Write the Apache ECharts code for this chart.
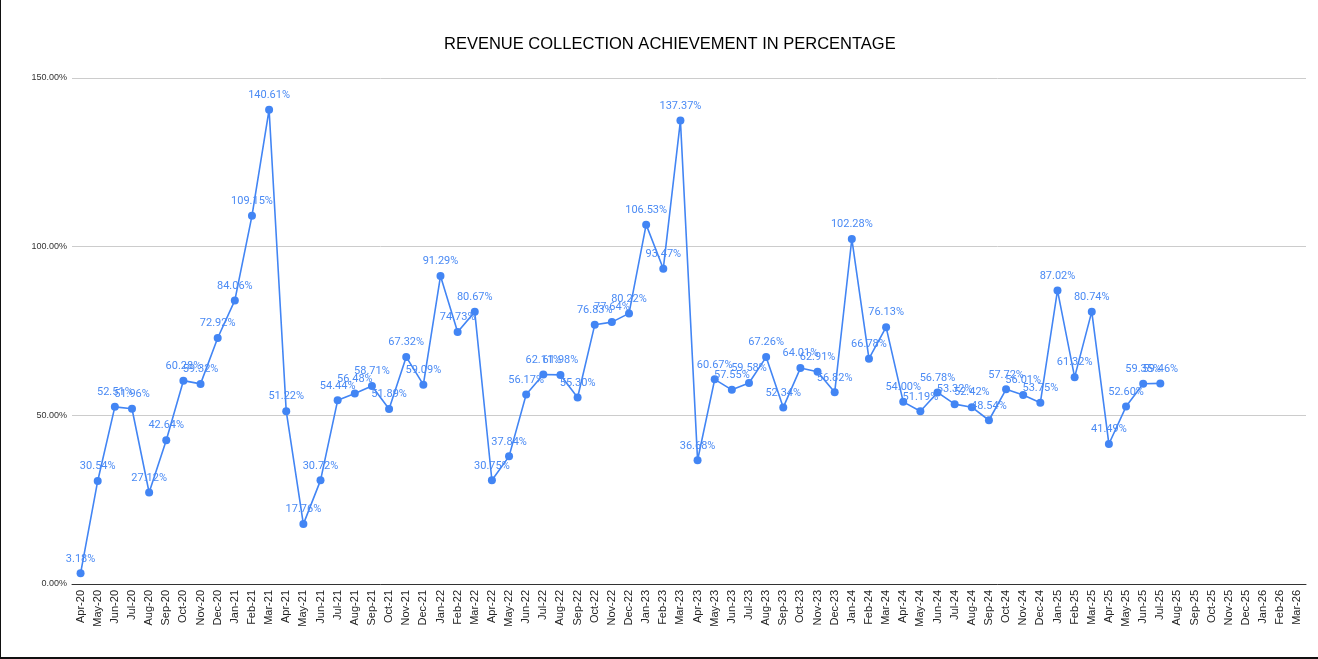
<!DOCTYPE html>
<html>
<head>
<meta charset="utf-8">
<script src="https://cdn.jsdelivr.net/npm/echarts@6/dist/echarts.min.js"></script>
<style>
  html, body { margin: 0; padding: 0; background: #fff; }
  #chart {
    width: 1317px; height: 657px;
    border-left: 1px solid #111;
    border-bottom: 2px solid #111;
  }
</style>
</head>
<body>
<div id="chart"></div>
<script>
  // 月份 (Apr-20 .. Mar-26)
  const months = [
    'Apr-20','May-20','Jun-20','Jul-20','Aug-20','Sep-20','Oct-20','Nov-20','Dec-20',
    'Jan-21','Feb-21','Mar-21','Apr-21','May-21','Jun-21','Jul-21','Aug-21','Sep-21','Oct-21','Nov-21','Dec-21',
    'Jan-22','Feb-22','Mar-22','Apr-22','May-22','Jun-22','Jul-22','Aug-22','Sep-22','Oct-22','Nov-22','Dec-22',
    'Jan-23','Feb-23','Mar-23','Apr-23','May-23','Jun-23','Jul-23','Aug-23','Sep-23','Oct-23','Nov-23','Dec-23',
    'Jan-24','Feb-24','Mar-24','Apr-24','May-24','Jun-24','Jul-24','Aug-24','Sep-24','Oct-24','Nov-24','Dec-24',
    'Jan-25','Feb-25','Mar-25','Apr-25','May-25','Jun-25','Jul-25','Aug-25','Sep-25','Oct-25','Nov-25','Dec-25',
    'Jan-26','Feb-26','Mar-26'
  ]

  // 达成率 (%)
  const achievement = [
    3.18, 30.54, 52.51, 51.96, 27.12, 42.64, 60.28, 59.32, 72.92,
    84.06, 109.15, 140.61, 51.22, 17.76, 30.72, 54.44, 56.48, 58.71, 51.89, 67.32, 59.09,
    91.29, 74.73, 80.67, 30.75, 37.84, 56.17, 62.11, 61.98, 55.30, 76.83, 77.64, 80.22,
    106.53, 93.47, 137.37, 36.68, 60.67, 57.55, 59.58, 67.26, 52.34, 64.01, 62.91, 56.82,
    102.28, 66.78, 76.13, 54.00, 51.19, 56.78, 53.32, 52.42, 48.54, 57.72, 56.01, 53.75,
    87.02, 61.32, 80.74, 41.49, 52.60, 59.35, 59.46
  ]

  const chart = echarts.init(document.getElementById('chart'))

  const option = {
    animation: false,
    title: {
      text: 'REVENUE COLLECTION ACHIEVEMENT IN PERCENTAGE',
      left: 438,
      top: 31,
      textStyle: {
        fontFamily: 'Liberation Sans, Arial, sans-serif',
        fontSize: 16.5,
        fontWeight: 'normal',
        color: '#000',
      },
    },
    grid: {
      left: 71,
      right: 12,
      top: 78,
      bottom: 73,
    },
    xAxis: {
      type: 'category',
      data: months,
      boundaryGap: true,
      axisLine: { lineStyle: { color: '#333', width: 1 } },
      axisTick: { show: false },
      axisLabel: {
        interval: 0,
        rotate: 90,
        margin: 6,
        fontFamily: 'Liberation Sans, Arial, sans-serif',
        fontSize: 11,
        color: '#222',
      },
    },
    yAxis: {
      type: 'value',
      min: 0,
      max: 150,
      interval: 50,
      axisLine: { show: false },
      axisTick: { show: false },
      splitLine: { lineStyle: { color: '#ccc', width: 1 } },
      axisLabel: {
        margin: 5,
        fontFamily: 'Liberation Sans, Arial, sans-serif',
        fontSize: 9,
        color: '#333',
        formatter: (v) => v.toFixed(2) + '%',
      },
    },
    series: [
      {
        type: 'line',
        data: achievement,
        symbol: 'circle',
        symbolSize: 8,
        itemStyle: { color: '#4285f4' },
        lineStyle: { color: '#4285f4', width: 1.6 },
        label: {
          show: true,
          position: 'top',
          distance: 5,
          fontFamily: 'Roboto, Liberation Sans, sans-serif',
          fontSize: 11,
          color: '#4a8af4',
          formatter: (p) => p.value.toFixed(2) + '%',
        },
      },
    ],
  }

  chart.setOption(option)
</script>
</body>
</html>
